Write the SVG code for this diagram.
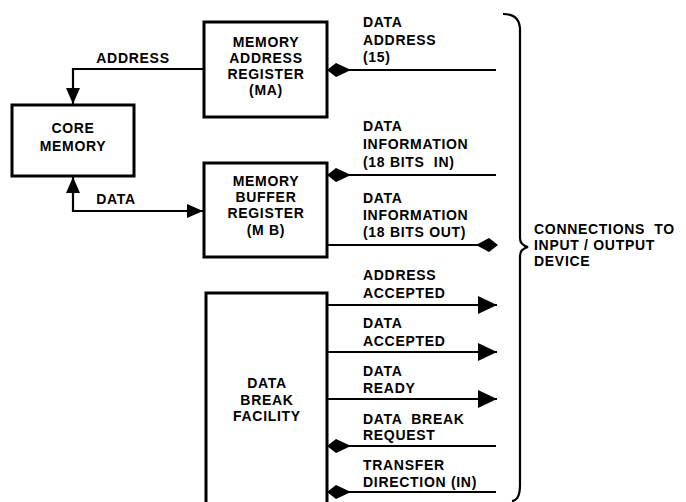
<svg xmlns="http://www.w3.org/2000/svg" xmlns:xlink="http://www.w3.org/1999/xlink" width="686" height="502" viewBox="0 0 686 502">
<defs>
<style>
.box{fill:#fff;stroke:#000;stroke-width:3}
.ln{fill:none;stroke:#000;stroke-width:2.2}
.hd{fill:#000}
.t{font-family:"Liberation Sans",Arial,sans-serif;font-weight:bold;font-size:14px;letter-spacing:0.7px;fill:#000}
.c{text-anchor:middle}
</style>
<marker id="tri" viewBox="0 0 19 18" refX="19" refY="9" markerWidth="19" markerHeight="18" markerUnits="userSpaceOnUse" orient="auto">
<path d="M0,0 L19,9 L0,18 Z" fill="#000"/>
</marker>
<marker id="tris" viewBox="0 0 16 14" refX="16" refY="7" markerWidth="16" markerHeight="14" markerUnits="userSpaceOnUse" orient="auto">
<path d="M0,0 L16,7 L0,14 Z" fill="#000"/>
</marker>
<path id="diaL" d="M0,0 L9,-7 L24,0 L9,7 Z"/>
<path id="diaR" d="M0,0 L-9,-7 L-22,0 L-9,7 Z"/>
</defs>
<rect width="686" height="502" fill="#fff"/>

<g id="connectors">
<path class="ln" d="M205,69 H73 V104" marker-end="url(#tris)"/>
<path class="ln" d="M204,211 H73 V177" marker-end="url(#tris)"/>
<path class="ln" d="M73,211 H203" marker-end="url(#tris)"/>
<path class="ln" d="M496,70 H327"/>
<use xlink:href="#diaL" class="hd" x="327" y="70"/>
<path class="ln" d="M496,175 H327"/>
<use xlink:href="#diaL" class="hd" x="327" y="175"/>
<path class="ln" d="M327,245 H497"/>
<use xlink:href="#diaR" class="hd" x="498" y="245"/>
<path class="ln" d="M327,305 H497" marker-end="url(#tri)"/>
<path class="ln" d="M327,352 H497" marker-end="url(#tri)"/>
<path class="ln" d="M327,399 H497" marker-end="url(#tri)"/>
<path class="ln" d="M496,446 H327"/>
<use xlink:href="#diaL" class="hd" x="327" y="446"/>
<path class="ln" d="M496,492 H327"/>
<use xlink:href="#diaL" class="hd" x="327" y="492"/>
</g>

<g id="labels">
<text class="t c" x="133" y="63">ADDRESS</text>
<text class="t c" x="116" y="204">DATA</text>
<text class="t" x="363" y="27">DATA</text>
<text class="t" x="363" y="45">ADDRESS</text>
<text class="t" x="363" y="62">(15)</text>
<text class="t" x="363" y="131">DATA</text>
<text class="t" x="363" y="149">INFORMATION</text>
<text class="t" x="363" y="167" xml:space="preserve">(18 BITS  IN)</text>
<text class="t" x="363" y="203">DATA</text>
<text class="t" x="363" y="220">INFORMATION</text>
<text class="t" x="363" y="237">(18 BITS OUT)</text>
<text class="t" x="363" y="280">ADDRESS</text>
<text class="t" x="363" y="298">ACCEPTED</text>
<text class="t" x="363" y="328">DATA</text>
<text class="t" x="363" y="346">ACCEPTED</text>
<text class="t" x="363" y="376">DATA</text>
<text class="t" x="363" y="393">READY</text>
<text class="t" x="363" y="424" xml:space="preserve">DATA  BREAK</text>
<text class="t" x="363" y="440">REQUEST</text>
<text class="t" x="363" y="470">TRANSFER</text>
<text class="t" x="363" y="487">DIRECTION (IN)</text>
</g>

<g id="brace">
<path class="ln" d="M503,14 Q520,14 520,30 V238 Q520,245 528,247 Q520,249 520,256 V485 Q520,500 512,501" stroke-width="2.5"/>
<text class="t" x="534" y="234" xml:space="preserve">CONNECTIONS  TO</text>
<text class="t" x="534" y="250">INPUT / OUTPUT</text>
<text class="t" x="534" y="266">DEVICE</text>
</g>

<g id="core-memory">
<rect class="box" x="12" y="105" width="122" height="71"/>
<text class="t c" x="73" y="133">CORE</text>
<text class="t c" x="73" y="151">MEMORY</text>
</g>

<g id="memory-address-register">
<rect class="box" x="204" y="22" width="123" height="95"/>
<text class="t c" x="266" y="47">MEMORY</text>
<text class="t c" x="266" y="63">ADDRESS</text>
<text class="t c" x="266" y="79">REGISTER</text>
<text class="t c" x="266" y="95">(MA)</text>
</g>

<g id="memory-buffer-register">
<rect class="box" x="204" y="163" width="123" height="94"/>
<text class="t c" x="266" y="186">MEMORY</text>
<text class="t c" x="266" y="202">BUFFER</text>
<text class="t c" x="266" y="218">REGISTER</text>
<text class="t c" x="266" y="235">(M B)</text>
</g>

<g id="data-break-facility">
<path class="box" d="M206,505 V293 H327 V505"/>
<text class="t c" x="267" y="388">DATA</text>
<text class="t c" x="267" y="405">BREAK</text>
<text class="t c" x="267" y="421">FACILITY</text>
</g>
</svg>
